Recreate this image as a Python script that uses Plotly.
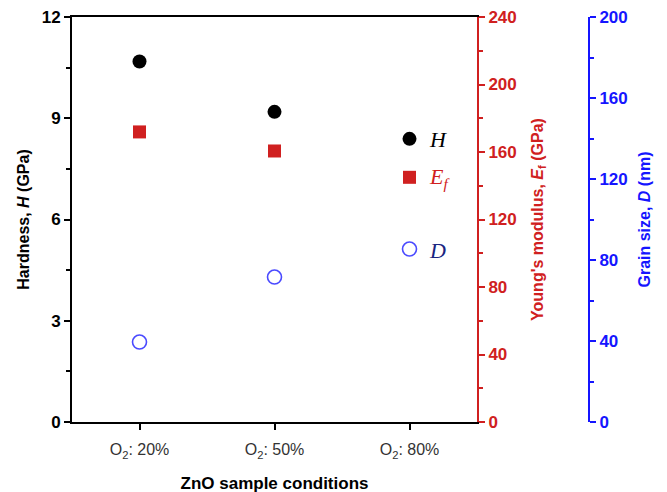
import plotly.graph_objects as go

categories = ["O<sub>2</sub>: 20%", "O<sub>2</sub>: 50%", "O<sub>2</sub>: 80%"]
hardness = [10.68, 9.19, 8.39]
modulus = [171.9, 160.6, 145.0]
grain = [39.5, 71.6, 85.4]

red = "#d02020"
blue = "#1515ff"
font = "Liberation Sans, Arial, sans-serif"

x_idx = [0, 1, 2]

fig = go.Figure()
fig.add_trace(go.Scatter(x=x_idx, y=hardness, mode="markers", yaxis="y",
                         marker=dict(symbol="circle", size=14, color="black"), showlegend=False))
fig.add_trace(go.Scatter(x=x_idx, y=modulus, mode="markers", yaxis="y2",
                         marker=dict(symbol="square", size=13, color=red), showlegend=False))
fig.add_trace(go.Scatter(x=x_idx, y=grain, mode="markers", yaxis="y3",
                         marker=dict(symbol="circle-open", size=14, color="#4a4aff",
                                     line=dict(width=1.6)), showlegend=False))

labels = [("<i>H</i>", hardness[2], "y", "black"),
          ("<i>E<sub>f</sub></i>", modulus[2], "y2", red),
          ("<i>D</i>", grain[2], "y3", "#1a2580")]
for txt, yv, ya, col in labels:
    fig.add_annotation(x=2, y=yv, xref="x", yref=ya, text=txt, showarrow=False,
                       xanchor="left", xshift=17, yshift=-1,
                       font=dict(family="Liberation Serif, Times New Roman, serif", size=22, color=col))

W, H = 667, 492
ml, mr = 64, 40
pw = W - ml - mr
x_end = (469 - ml) / pw
blue_pos = (581 - ml) / pw

fig.update_layout(
    width=W, height=H,
    margin=dict(l=ml, r=mr, t=9, b=78),
    plot_bgcolor="white", paper_bgcolor="white",
    font=dict(family=font, size=14, color="black"),
    xaxis=dict(domain=[0, x_end], range=[-0.5, 2.5], tickmode="array", tickvals=x_idx,
               ticktext=categories, showline=True, linecolor="black", linewidth=2,
               mirror=True, ticks="outside", ticklen=6, tickwidth=2, tickcolor="black",
               showgrid=False, zeroline=False, automargin=False, ticklabelstandoff=6,
               tickfont=dict(size=16, color="#333333"),
               title=dict(text="<b>ZnO sample conditions</b>", font=dict(size=17), standoff=18)),
    yaxis=dict(range=[0, 12], tickvals=[0, 3, 6, 9, 12], showline=True, linecolor="black",
               linewidth=2, ticks="outside", ticklen=6, tickwidth=2, tickcolor="black",
               minor=dict(dtick=1.5, ticks="outside", ticklen=4, tickwidth=1.5, tickcolor="black", showgrid=False),
               showgrid=False, zeroline=False, automargin=False, ticklabeloverflow="allow",
               tickfont=dict(size=17, color="black", weight="bold"),
               title=dict(text="<b>Hardness, <i>H</i> (GPa)</b>", font=dict(size=16), standoff=8)),
    yaxis2=dict(range=[0, 240], tickvals=[0, 40, 80, 120, 160, 200, 240], overlaying="y",
                side="right", anchor="x", showline=True, linecolor=red, linewidth=2,
                ticks="outside", ticklen=6, tickwidth=2, tickcolor=red,
                minor=dict(dtick=20, ticks="outside", ticklen=4, tickwidth=1.5, tickcolor=red, showgrid=False),
                showgrid=False, zeroline=False, automargin=False, ticklabeloverflow="allow",
                tickfont=dict(size=17, color=red, weight="bold"),
                title=dict(text="<b>Young's modulus, <i>E</i><sub>f</sub> (GPa)</b>",
                           font=dict(size=16, color=red), standoff=16)),
    yaxis3=dict(range=[0, 200], tickvals=[0, 40, 80, 120, 160, 200], overlaying="y",
                side="right", anchor="free", position=blue_pos, showline=True, linecolor=blue,
                linewidth=2, ticks="outside", ticklen=6, tickwidth=2, tickcolor=blue,
                minor=dict(dtick=20, ticks="outside", ticklen=4, tickwidth=1.5, tickcolor=blue, showgrid=False),
                showgrid=False, zeroline=False, automargin=False, ticklabeloverflow="allow",
                tickfont=dict(size=17, color=blue, weight="bold"),
                title=dict(text="<b>Grain size, <i>D</i> (nm)</b>",
                           font=dict(size=16, color=blue), standoff=11)),
)

fig.write_html("out.html")
